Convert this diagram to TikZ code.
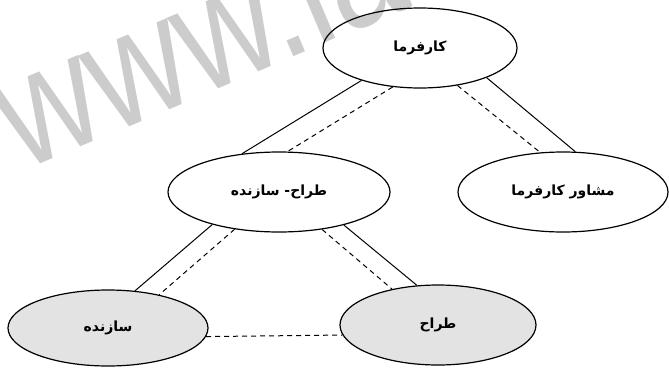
\documentclass[tikz,border=0pt]{standalone}
\usepackage{fontspec}
\setmainfont{DejaVu Sans}
\newfontfamily\arabicfont[Script=Arabic,BoldFont={DejaVu Sans Bold}]{DejaVu Sans}
\newfontfamily\wmfont{Liberation Sans}
\TeXXeTstate=1
\usetikzlibrary{shapes.geometric}
\begin{document}
\begin{tikzpicture}[x=1pt,y=-1pt,
  ell/.style={ellipse,draw,line width=1.2pt,inner sep=0pt,
    font=\arabicfont\bfseries\fontsize{14}{16}\selectfont},
  grayfill/.style={fill=black!11},
  solidlink/.style={line width=1pt},
  dashlink/.style={line width=1pt,dash pattern=on 5pt off 4pt}]
\useasboundingbox (0,0) rectangle (669,370);
\begin{scope}
  \clip (0,0) rectangle (669,370);
  \node[anchor=base west, rotate=23, yscale=1.2, text=black!20, inner sep=0pt,
    font=\wmfont\fontsize{134}{134}\selectfont] (wm) at (22,172) {www.la};
\end{scope}
\node[ell, minimum width=194pt, minimum height=80pt] (emp) at (420,48) {\beginR کارفرما\endR};
\node[ell, minimum width=222pt, minimum height=80pt] (db) at (279,192) {\beginR طراح- سازنده\endR};
\node[ell, minimum width=210pt, minimum height=80pt] (cons) at (563,192) {\beginR مشاور کارفرما\endR};
\node[ell, grayfill, minimum width=200pt, minimum height=76pt] (bld) at (108,328) {\beginR سازنده\endR};
\node[ell, grayfill, minimum width=196pt, minimum height=80pt] (des) at (438,325) {\beginR طراح\endR};
\draw[solidlink] (emp.209) -- (db.134);
\draw[dashlink] (emp.235) -- (db.78);
\draw[dashlink] (emp.315) -- (cons.120);
\draw[solidlink] (emp.336) -- (cons.73);
\draw[solidlink] (db.206) -- (bld.54);
\draw[dashlink] (db.220) -- (bld.33);
\draw[dashlink] (db.319) -- (des.142);
\draw[solidlink] (db.333) -- (des.118);
\draw[dashlink] (bld.-5) -- (des.186);
\end{tikzpicture}
\end{document}
